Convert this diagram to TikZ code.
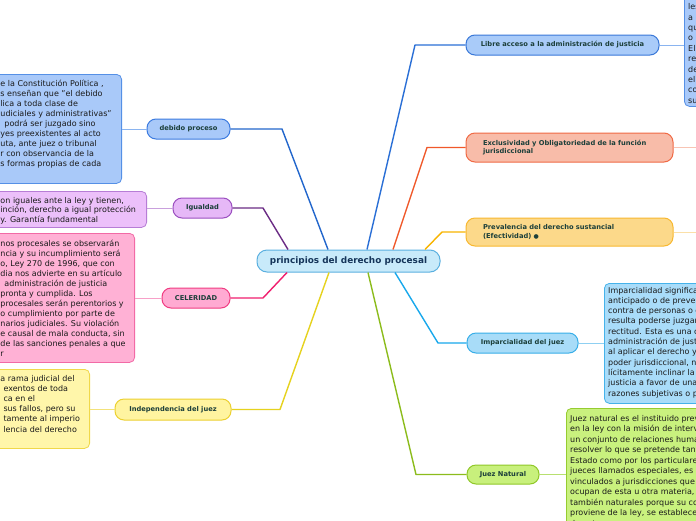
\documentclass[tikz,border=0pt]{standalone}
\usepackage{fontspec}
\setmainfont{DejaVu Sans}
\definecolor{labtxt}{HTML}{1C3F3A}
\definecolor{ctxt}{HTML}{15355A}
\definecolor{bodytxt}{HTML}{1A1A1A}
\definecolor{cfill}{HTML}{C8EAFA}\definecolor{cdraw}{HTML}{5BB0E0}
\definecolor{dpfill}{HTML}{A9C9F9}\definecolor{dpdraw}{HTML}{3C7BE0}\definecolor{dpline}{HTML}{2266CC}\definecolor{dpthin}{HTML}{8AB4F0}\definecolor{dpbdraw}{HTML}{5590E6}
\definecolor{igfill}{HTML}{E6B8F7}\definecolor{igdraw}{HTML}{9B4FC0}\definecolor{igline}{HTML}{6B2C85}\definecolor{igthin}{HTML}{C9A0DD}\definecolor{igbfill}{HTML}{ECC0FA}\definecolor{igbdraw}{HTML}{B77DD6}
\definecolor{celfill}{HTML}{FFAAD2}\definecolor{celdraw}{HTML}{F03C82}\definecolor{celline}{HTML}{F01E6E}\definecolor{celthin}{HTML}{F7A0C8}\definecolor{celbfill}{HTML}{FFB1D5}\definecolor{celbdraw}{HTML}{F26AA6}
\definecolor{indfill}{HTML}{FFF4A0}\definecolor{inddraw}{HTML}{ECD030}\definecolor{indline}{HTML}{E6D21E}\definecolor{indthin}{HTML}{F3E27A}\definecolor{indbfill}{HTML}{FFF6AA}\definecolor{indbdraw}{HTML}{F0D84A}
\definecolor{libfill}{HTML}{A9CBF9}\definecolor{libdraw}{HTML}{3A78D8}\definecolor{libline}{HTML}{2A6FD6}
\definecolor{excfill}{HTML}{F8BCA9}\definecolor{excdraw}{HTML}{F06A45}\definecolor{excline}{HTML}{F0582A}\definecolor{excthin}{HTML}{F8C4B4}
\definecolor{prevfill}{HTML}{FCD98A}\definecolor{prevdraw}{HTML}{F8B830}\definecolor{prevline}{HTML}{F8B400}\definecolor{prevthin}{HTML}{FBE0A8}
\definecolor{impfill}{HTML}{A8DCF8}\definecolor{impdraw}{HTML}{38AEE8}\definecolor{impline}{HTML}{18A8EC}\definecolor{impthin}{HTML}{8FD0F2}\definecolor{impbfill}{HTML}{A9DCF9}\definecolor{impbdraw}{HTML}{45B2EA}
\definecolor{jnfill}{HTML}{C8F07C}\definecolor{jndraw}{HTML}{90C828}\definecolor{jnline}{HTML}{8CBC1C}\definecolor{jnthin}{HTML}{B8E070}\definecolor{jnbfill}{HTML}{C9F17E}\definecolor{jnbdraw}{HTML}{96CC30}
\newcommand{\fl}{\rule{0pt}{8pt}}
\begin{document}
\begin{tikzpicture}[x=1pt,y=-1pt,
  lab/.style={draw, rounded corners=9pt, line width=1pt, font=\fontsize{6.7}{8.7}\selectfont\bfseries, text=labtxt, inner sep=0pt, align=center},
  tbox/.style={draw, rounded corners=5pt, line width=0.8pt, inner sep=0pt},
  txt/.style={font=\fontsize{8}{10}\selectfont, align=left, inner sep=0pt, anchor=north west, text=bodytxt},
  rtxt/.style={font=\fontsize{8}{10.4}\selectfont, align=left, inner sep=0pt, anchor=north west, text=bodytxt},
  mainline/.style={line width=1.4pt},
  thinline/.style={line width=1pt}]
\useasboundingbox (0,0) rectangle (696,520);
\fill[white] (0,0) rectangle (696,520);

% left text boxes
\node[tbox, fill=dpfill, draw=dpbdraw, minimum width=200, minimum height=109, anchor=north east] (dpbox) at (122,74) {};
\node[txt] (dptxt) at (0.3,77.8) {\fl e la Constitución Política ,\\s enseñan que "el debido\\lica a toda clase de\\udiciales y administrativas"\\\hspace*{4pt}podrá ser juzgado sino\\yes preexistentes al acto\\uta, ante juez o tribunal\\r con observancia de la\\s formas propias de cada};

\node[tbox, fill=igbfill, draw=igbdraw, minimum width=200, minimum height=36, anchor=north east] (igbox) at (147,191) {};
\node[txt, font=\fontsize{8}{9.8}\selectfont] (igtxt) at (0.3,194.8) {\fl on iguales ante la ley y tienen,\\inción, derecho a igual protección\\y. Garantía fundamental};

\node[tbox, fill=celbfill, draw=celbdraw, minimum width=200, minimum height=129, anchor=north east] (celbox) at (135,233) {};
\node[txt] (celtxt) at (0.3,237.8) {\fl nos procesales se observarán\\ncia y su incumplimiento será\\o, Ley 270 de 1996, que con\\dia nos advierte en su artículo\\\hspace*{4pt}administración de justicia\\pronta y cumplida. Los\\procesales serán perentorios y\\o cumplimiento por parte de\\narios judiciales. Su violación\\e causal de mala conducta, sin\\de las sanciones penales a que\\r};

\node[tbox, fill=indbfill, draw=indbdraw, minimum width=200, minimum height=79, anchor=north east] (indbox) at (90,369) {};
\node[txt, font=\fontsize{8}{10.2}\selectfont] (indtxt) at (0.3,372.8) {\fl a rama judicial del\\\hspace*{3pt}exentos de toda\\\hspace*{3pt}ca en el\\\hspace*{3pt}sus fallos, pero su\\\hspace*{3pt}tamente al imperio\\\hspace*{3pt}lencia del derecho};

% right text boxes
\node[tbox, fill=dpfill, draw=dpbdraw, minimum width=200, minimum height=122, anchor=north west] (libbox) at (684,-16) {};
\node[rtxt] (libtxt) at (688,1.5) {\fl les\\a\\que\\o\\El\\re\\de\\el\\co\\su};

\node[tbox, fill=impbfill, draw=impbdraw, minimum width=200, minimum height=120, anchor=north west] (impbox) at (604,283) {};
\node[rtxt, font=\fontsize{8}{10.3}\selectfont] (imptxt) at (608,284.8) {\fl Imparcialidad significa falta de designio\\anticipado o de prevención en favor o en\\contra de personas o cosas, de que\\resulta poderse juzgar o proceder con\\rectitud. Esta es una característica de la\\administración de justicia y de sus agentes\\al aplicar el derecho y ejercer el\\poder jurisdiccional, no pueden\\lícitamente inclinar la balanza de la\\justicia a favor de una de las partes por\\razones subjetivas o personales};

\node[tbox, fill=jnbfill, draw=jnbdraw, minimum width=200, minimum height=133, anchor=north west] (jnbox) at (566,408) {};
\node[rtxt, font=\fontsize{8}{10.5}\selectfont] (jntxt) at (570,412.8) {\fl Juez natural es el instituido previamente\\en la ley con la misión de intervenir en\\un conjunto de relaciones humanas para\\resolver lo que se pretende tanto por el\\Estado como por los particulares. Los\\jueces llamados especiales, es decir,\\vinculados a jurisdicciones que se\\ocupan de esta u otra materia, son\\también naturales porque su competencia\\proviene de la ley, se establece de\\de antemano};

% central and labels
\node[draw=cdraw, fill=cfill, rounded corners=10pt, line width=1pt, minimum width=183, minimum height=22, inner sep=0pt, font=\fontsize{8.9}{10}\selectfont\bfseries, text=ctxt] (central) at (348.5,261) {principios del derecho procesal};

\node[lab, fill=dpfill, draw=dpdraw, minimum width=83, minimum height=20] (dp) at (188.5,129) {debido proceso};
\node[lab, fill=igfill, draw=igdraw, minimum width=59, minimum height=20] (ig) at (202.5,208) {Igualdad};
\node[lab, fill=celfill, draw=celdraw, minimum width=68, minimum height=20] (cel) at (196,298) {CELERIDAD};
\node[lab, fill=indfill, draw=inddraw, minimum width=116, minimum height=21] (ind) at (173,409.5) {Independencia del juez};
\node[lab, fill=libfill, draw=libdraw, minimum width=193, minimum height=20] (lib) at (562.5,45) {Libre acceso a la administración de justicia};
\node[lab, fill=excfill, draw=excdraw, minimum width=207, minimum height=29, text width=173, inner xsep=17, align=left] (exc) at (569.5,147.5) {Exclusividad y Obligatoriedad de la función\\jurisdiccional};
\node[lab, fill=prevfill, draw=prevdraw, minimum width=207, minimum height=28, text width=173, inner xsep=17, align=left] (prev) at (569.5,232) {Prevalencia del derecho sustancial\\(Efectividad) {\fontsize{6}{6}\selectfont●}};
\node[lab, fill=impfill, draw=impdraw, minimum width=111, minimum height=20] (imp) at (522.5,343) {Imparcialidad del juez};
\node[lab, fill=jnfill, draw=jndraw, minimum width=72, minimum height=19] (jn) at (503,474.5) {Juez Natural};

\coordinate (excend) at (700,147.5);
\coordinate (prevend) at (700,232);

% thin connectors
\draw[thinline, dpthin] (dp.west) -- (dp.west -| dpbox.east);
\draw[thinline, igthin] (ig.west) -- (ig.west -| igbox.east);
\draw[thinline, celthin] (cel.west) -- (cel.west -| celbox.east);
\draw[thinline, indthin] (ind.west) -- (ind.west -| indbox.east);
\draw[thinline, dpthin] (lib.east) -- (lib.east -| libbox.west);
\draw[thinline, excthin] (exc.east) -- (excend);
\draw[thinline, prevthin] (prev.east) -- (prevend);
\draw[thinline, impthin] (imp.east) -- (imp.east -| impbox.west);
\draw[thinline, jnthin] (jn.east) -- (jn.east -| jnbox.west);

% main connectors
\draw[mainline, dpline, line join=round] ([xshift=-20.5pt]central.north) -- (282,129) -- (dp.east);
\draw[mainline, igline, line join=round] ([xshift=-60.5pt]central.north) -- (263,208) -- (ig.east);
\draw[mainline, celline, line join=round] ([xshift=-61.5pt]central.south) -- (263,298) -- (cel.east);
\draw[mainline, indline, line join=round] ([xshift=-19.5pt]central.south) -- (280,409.5) -- (ind.east);
\draw[mainline, libline, line join=round] ([xshift=18.5pt]central.north) -- (415,45) -- (lib.west);
\draw[mainline, excline, line join=round] ([xshift=44.5pt]central.north) -- (427,147.5) -- (exc.west);
\draw[mainline, prevline, line join=round] ([xshift=76.5pt]central.north) -- (442,232) -- (prev.west);
\draw[mainline, impline, line join=round] ([xshift=46.5pt]central.south) -- (438,343) -- (imp.west);
\draw[mainline, jnline, line join=round] ([xshift=19.5pt]central.south) -- (416,474.5) -- (jn.west);
\end{tikzpicture}
\end{document}
